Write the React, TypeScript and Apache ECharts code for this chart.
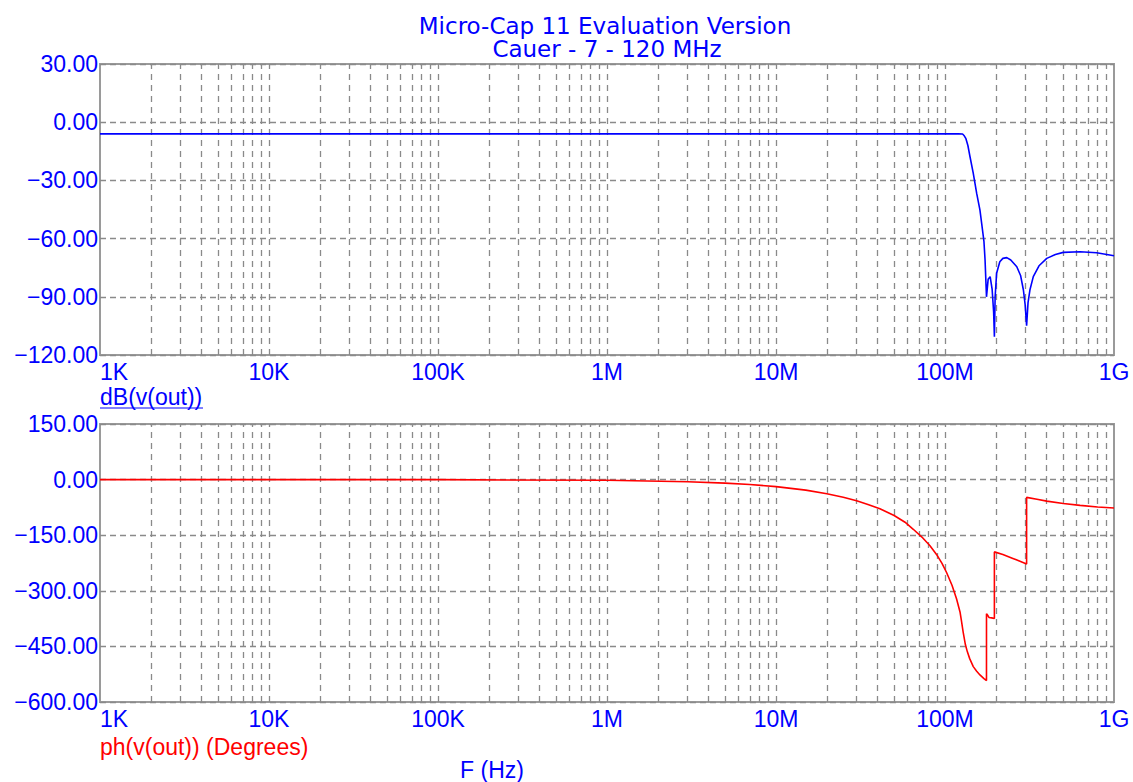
import React, { useEffect, useRef } from "react";
import * as echarts from "echarts";

// ---- data ----
const titleLines = ["Micro-Cap 11 Evaluation Version", "Cauer - 7 - 120 MHz"];
const xTickLabels = ["1K", "10K", "100K", "1M", "10M", "100M", "1G"];
const freqRange = [1e3, 1e9];
const gainRange = [-120, 30];
const gainStep = 30;
const phaseRange = [-600, 150];
const phaseStep = 150;
const gridDecades = [1e3, 1e4, 1e5, 1e6, 1e7, 1e8];
const gridMultipliers = [2, 3, 4, 5, 6, 7, 8, 9, 10];

const magFreq = [
  1e3, 1e4, 1e5, 1e6, 1e7, 1e8, 1.2e8, 1.27e8, 1.3e8, 1.33e8, 1.366e8, 1.406e8,
  1.47e8, 1.54e8, 1.61e8, 1.65e8, 1.7e8, 1.726e8, 1.76e8, 1.8e8, 1.85e8, 1.9e8,
  1.94e8, 1.96e8, 1.98e8, 2.02e8, 2.11e8, 2.2e8, 2.32e8, 2.45e8, 2.66e8, 2.8e8,
  2.91e8, 2.98e8, 3.04e8, 3.1e8, 3.18e8, 3.33e8, 3.6e8, 4e8, 4.5e8, 5.01e8,
  6.3e8, 7.89e8, 1e9,
];
const magDb = [
  -6.02, -6.02, -6.02, -6.02, -6.02, -6.02, -6.0, -6.1, -7.0, -8.5, -12, -17.8,
  -26.4, -36.7, -45.3, -52.5, -61.5, -71, -90, -81, -79.6, -86,
  -98, -110.6, -90, -77.9, -71.9, -70.2, -69.8, -71, -74.5, -79,
  -86.5, -94, -104.9, -93, -86.5, -79.6, -74, -70.2, -68.2, -67.1,
  -66.8, -67.3, -68.8,
];

const phaseFreq = [
  1e3, 1e5, 1e6, 3e6, 5e6, 7e6, 1e7, 1.5e7, 2e7, 2.5e7, 3e7, 3.5e7, 4.12e7,
  5e7, 5.8e7, 6.49e7, 7.3e7, 8.15e7, 9e7, 9.6e7, 1.02e8, 1.1e8, 1.17e8,
  1.227e8, 1.25e8, 1.28e8, 1.32e8, 1.355e8, 1.4e8, 1.47e8, 1.54e8, 1.61e8,
  1.7e8, 1.76e8, 1.7601e8, 1.79e8, 1.82e8, 1.89e8, 1.96e8, 1.9601e8, 2.2e8,
  2.5e8, 2.8e8, 3.04e8, 3.0401e8, 3.5e8, 4e8, 5.01e8, 6.3e8, 8e8, 1e9,
];
const phaseDeg = [
  0, -0.2, -1.9, -5.7, -9.5, -13.3, -19, -28.5, -38, -47.5, -57, -67, -78.6,
  -97, -115, -134, -155, -178.6, -205, -226, -250, -285, -321.5,
  -357, -380, -410.7, -445, -464, -483, -504.5, -517, -527,
  -537, -542, -362, -366, -372, -373, -375, -195, -202,
  -212, -221, -227.7, -48, -53, -58, -64.3, -69.6, -74, -76.8,
];

const BLUE = "#0000ff";
const RED = "#ff0000";
const GRID_GRAY = "#8a8a8a";
const BORDER_GRAY = "#9a9a9a";
const LABEL_FONT = "'Liberation Sans', Arial, sans-serif";
const TITLE_FONT = "'DejaVu Sans', sans-serif";

function zip(xs: number[], ys: number[]) {
  return xs.map((x, i) => [x, ys[i]]);
}

function fmtY(v: number) {
  const s = Math.abs(v).toFixed(2);
  return v < 0 ? "\u2212" + s : s;
}

function fmtX(v: number) {
  const idx = Math.round(Math.log10(v)) - 3;
  return xTickLabels[idx] ?? "";
}

export default function App() {
  const ref = useRef<HTMLDivElement>(null);

  useEffect(() => {
    if (!ref.current) return;
    const chart = echarts.init(ref.current, null, { renderer: "svg" });

    const gridFreqs: number[] = [];
    gridDecades.forEach((d) =>
      gridMultipliers.forEach((m) => {
        const f = d * m;
        if (f < freqRange[1]) gridFreqs.push(f);
      })
    );

    const xAxisBase = (gridIndex: number) => ({
      type: "log" as const,
      logBase: 10,
      gridIndex,
      min: freqRange[0],
      max: freqRange[1],
      axisLine: { show: false },
      axisTick: { show: false },
      splitLine: { show: false },
      axisLabel: {
        color: BLUE,
        fontSize: 23,
        fontFamily: LABEL_FONT,
        margin: 5,
        formatter: fmtX,
        showMinLabel: true,
        showMaxLabel: true,
        alignMinLabel: "left",
        hideOverlap: false,
      },
    });

    const yAxisBase = (gridIndex: number, range: number[], step: number) => ({
      type: "value" as const,
      gridIndex,
      min: range[0],
      max: range[1],
      interval: step,
      axisLine: { show: false },
      axisTick: { show: false },
      splitLine: {
        show: true,
        lineStyle: { color: GRID_GRAY, type: [6, 4], width: 1.3 },
      },
      axisLabel: {
        color: BLUE,
        fontSize: 23,
        fontFamily: LABEL_FONT,
        margin: 2,
        formatter: fmtY,
        showMinLabel: true,
        showMaxLabel: true,
      },
    });

    const gridLineSeries = (idx: number) => ({
      type: "line" as const,
      xAxisIndex: idx,
      yAxisIndex: idx,
      data: [],
      z: 1,
      silent: true,
      markLine: {
        silent: true,
        symbol: ["none", "none"],
        label: { show: false },
        lineStyle: { color: GRID_GRAY, type: [6, 5], width: 1.3 },
        emphasis: { disabled: true },
        data: gridFreqs.map((f) => ({ xAxis: f })),
      },
    });

    chart.setOption({
      animation: false,
      backgroundColor: "#ffffff",
      grid: [
        {
          left: 100,
          top: 64,
          width: 1014,
          height: 291,
          show: true,
          borderColor: BORDER_GRAY,
          borderWidth: 2,
          backgroundColor: "transparent",
          containLabel: false,
          outerBoundsMode: "none",
        },
        {
          left: 100,
          top: 424,
          width: 1014,
          height: 278,
          show: true,
          borderColor: BORDER_GRAY,
          borderWidth: 2,
          backgroundColor: "transparent",
          containLabel: false,
          outerBoundsMode: "none",
        },
      ],
      xAxis: [xAxisBase(0), xAxisBase(1)],
      yAxis: [yAxisBase(0, gainRange, gainStep), yAxisBase(1, phaseRange, phaseStep)],
      series: [
        gridLineSeries(0),
        gridLineSeries(1),
        {
          name: "dB(v(out))",
          type: "line",
          xAxisIndex: 0,
          yAxisIndex: 0,
          data: zip(magFreq, magDb),
          showSymbol: false,
          z: 5,
          lineStyle: { color: BLUE, width: 1.6 },
          itemStyle: { color: BLUE },
        },
        {
          name: "ph(v(out)) (Degrees)",
          type: "line",
          xAxisIndex: 1,
          yAxisIndex: 1,
          data: zip(phaseFreq, phaseDeg),
          showSymbol: false,
          z: 5,
          lineStyle: { color: RED, width: 1.6 },
          itemStyle: { color: RED },
        },
      ],
      graphic: [
        {
          type: "text",
          x: 605,
          y: 25.5,
          style: {
            text: titleLines[0],
            fill: BLUE,
            font: `23px ${TITLE_FONT}`,
            textAlign: "center",
            textVerticalAlign: "middle",
          },
        },
        {
          type: "text",
          x: 607,
          y: 49,
          style: {
            text: titleLines[1],
            fill: BLUE,
            font: `23px ${TITLE_FONT}`,
            textAlign: "center",
            textVerticalAlign: "middle",
          },
        },
        {
          type: "text",
          x: 100,
          y: 397,
          style: {
            text: "dB(v(out))",
            fill: BLUE,
            font: `23px ${LABEL_FONT}`,
            textAlign: "left",
            textVerticalAlign: "middle",
          },
        },
        {
          type: "line",
          shape: { x1: 100, y1: 408, x2: 203, y2: 408 },
          style: { stroke: BLUE, lineWidth: 1 },
        },
        {
          type: "text",
          x: 100,
          y: 747,
          style: {
            text: "ph(v(out)) (Degrees)",
            fill: RED,
            font: `23px ${LABEL_FONT}`,
            textAlign: "left",
            textVerticalAlign: "middle",
          },
        },
        {
          type: "text",
          x: 492,
          y: 770,
          style: {
            text: "F (Hz)",
            fill: BLUE,
            font: `23px ${LABEL_FONT}`,
            textAlign: "center",
            textVerticalAlign: "middle",
          },
        },
      ],
    });

    return () => chart.dispose();
  }, []);

  return (
    <div
      ref={ref}
      style={{ position: "absolute", left: 0, top: 0, width: 1133, height: 782 }}
    />
  );
}
